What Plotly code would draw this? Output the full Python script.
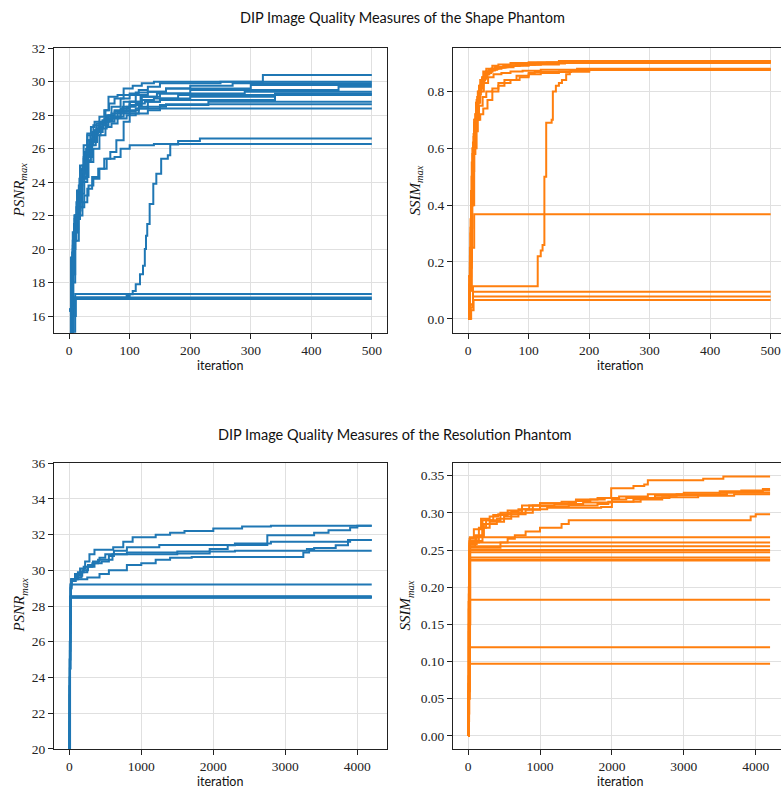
import plotly.graph_objects as go

BLUE = "#1f77b4"
ORANGE = "#ff7f0e"

# ---------------- Shape phantom: PSNR_max runs (iteration, value) ----------------
shape_psnr_iters = [
    [0, 1, 3, 5, 7, 10, 15, 20, 25, 30, 40, 50, 60, 65, 80, 90, 105, 120, 140, 320, 500],
    [0, 4, 6, 9, 12, 18, 24, 30, 38, 45, 55, 62, 70, 85, 100, 115, 130, 150, 250, 500],
    [0, 5, 8, 11, 16, 22, 28, 35, 45, 55, 65, 75, 90, 110, 130, 160, 300, 500],
    [0, 1, 4, 7, 10, 14, 20, 26, 33, 42, 50, 58, 70, 85, 100, 120, 145, 200, 445, 500],
    [0, 6, 9, 13, 18, 25, 32, 40, 48, 56, 64, 75, 88, 100, 118, 150, 290, 500],
    [0, 5, 10, 15, 22, 30, 38, 46, 55, 65, 80, 95, 110, 125, 150, 340, 500],
    [0, 4, 8, 12, 17, 24, 30, 37, 45, 55, 62, 72, 85, 100, 120, 140, 180, 500],
    [0, 5, 9, 14, 20, 27, 35, 43, 52, 60, 70, 85, 100, 115, 150, 230, 500],
    [0, 6, 10, 15, 21, 28, 36, 44, 52, 62, 75, 90, 110, 130, 160, 500],
    [0, 5, 9, 14, 19, 25, 32, 40, 50, 60, 70, 80, 95, 110, 130, 150, 500],
    [0, 5, 10, 16, 22, 30, 38, 48, 58, 68, 78, 90, 100, 115, 130, 150, 200, 340, 500],
    [0, 4, 8, 12, 18, 25, 32, 40, 50, 62, 75, 85, 100, 140, 500],
    [0, 3, 10, 90, 95, 100, 105, 110, 117, 122, 125, 127, 129, 133, 139, 144, 152, 163, 167, 180, 216, 500],
    [0, 6, 10, 500],
    [0, 5, 9, 500],
    [0, 7, 11, 500],
    [0, 3, 6, 9, 13, 18, 24, 30, 36, 42, 50, 58, 66, 75, 90, 110, 130, 160, 200, 270, 500],
]
shape_psnr_vals = [
    [16.4, 16.4, 14.2, 19.0, 20.5, 22.0, 23.5, 24.8, 25.8, 26.8, 27.4, 27.6, 28.3, 29.1, 29.2, 29.6, 29.75, 29.9, 30.0, 30.4, 30.4],
    [13.0, 18.0, 20.5, 22.0, 22.5, 24.5, 25.5, 26.5, 27.0, 27.5, 27.7, 28.0, 28.5, 29.0, 29.3, 29.5, 29.7, 29.9, 30.0, 30.0],
    [12.5, 19.5, 21.0, 22.0, 23.8, 25.0, 26.0, 26.8, 27.2, 27.6, 28.0, 28.3, 28.8, 29.2, 29.4, 29.6, 29.8, 29.8],
    [16.3, 16.3, 14.0, 20.0, 21.5, 23.0, 24.5, 25.6, 26.5, 27.1, 27.5, 27.8, 28.1, 28.4, 28.8, 29.1, 29.3, 29.5, 29.7, 29.7],
    [13.5, 20.2, 21.0, 22.6, 24.0, 25.2, 26.2, 26.9, 27.3, 27.6, 27.9, 28.2, 28.5, 28.8, 29.1, 29.3, 29.4, 29.4],
    [12.0, 18.5, 21.0, 22.5, 24.0, 25.5, 26.4, 27.0, 27.4, 27.8, 28.2, 28.5, 28.7, 28.8, 28.9, 29.3, 29.3],
    [13.2, 19.0, 21.5, 22.8, 24.2, 25.4, 26.0, 26.6, 27.0, 27.4, 27.7, 27.9, 28.3, 28.6, 28.9, 29.0, 29.2, 29.2],
    [12.8, 19.8, 21.8, 23.2, 24.6, 25.7, 26.5, 27.1, 27.5, 27.7, 27.9, 28.1, 28.3, 28.4, 28.6, 28.8, 28.8],
    [13.8, 20.0, 21.2, 22.8, 24.2, 25.3, 26.2, 26.8, 27.2, 27.6, 27.9, 28.2, 28.4, 28.5, 28.65, 28.65],
    [12.3, 19.2, 21.0, 22.3, 23.3, 24.3, 25.2, 26.0, 26.8, 27.3, 27.5, 27.8, 28.0, 28.1, 28.3, 28.4, 28.4],
    [13.0, 18.0, 20.5, 22.0, 22.8, 23.6, 24.3, 24.8, 25.4, 25.8, 26.5, 27.6, 28.1, 28.5, 28.8, 29.0, 29.1, 29.25, 29.25],
    [13.0, 18.5, 20.5, 21.8, 22.5, 23.2, 23.8, 24.2, 24.8, 25.4, 25.5, 26.0, 26.2, 26.27, 26.27],
    [16.4, 14.0, 17.1, 17.1, 17.2, 17.3, 17.5, 17.9, 18.5, 19.0, 20.0, 20.8, 21.5, 22.7, 23.9, 24.5, 25.4, 25.6, 26.25, 26.45, 26.6, 26.6],
    [12.0, 16.0, 17.32, 17.32],
    [13.0, 16.5, 17.1, 17.1],
    [11.5, 16.0, 17.02, 17.02],
    [14.0, 19.5, 21.0, 22.0, 23.5, 25.0, 26.2, 26.9, 27.3, 27.6, 27.9, 28.3, 28.7, 29.0, 29.2, 29.35, 29.4, 29.6, 29.75, 29.9, 29.9],
]

# ---------------- Shape phantom: SSIM_max runs ----------------
shape_ssim_iters = [
    [0, 2, 4, 6, 8, 10, 13, 16, 20, 25, 30, 40, 50, 70, 100, 150, 500],
    [0, 2, 4, 6, 9, 12, 15, 19, 24, 30, 38, 48, 60, 80, 110, 160, 500],
    [0, 3, 5, 7, 10, 13, 17, 22, 28, 35, 45, 60, 80, 120, 200, 500],
    [0, 1, 3, 5, 8, 11, 14, 18, 23, 30, 40, 55, 75, 100, 150, 330, 500],
    [0, 3, 6, 9, 12, 16, 20, 25, 32, 40, 50, 65, 85, 110, 160, 500],
    [0, 3, 6, 9, 12, 16, 20, 25, 32, 40, 50, 60, 70, 85, 100, 120, 150, 200, 500],
    [0, 3, 6, 10, 14, 18, 24, 30, 40, 50, 60, 80, 100, 110, 170, 500],
    [0, 2, 5, 8, 11, 15, 20, 26, 33, 42, 55, 70, 90, 120, 180, 500],
    [0, 3, 8, 113, 115, 120, 123, 126, 129, 138, 140, 145, 150, 155, 162, 168, 200, 500],
    [0, 3, 6, 10, 500],
    [0, 4, 8, 500],
    [0, 4, 8, 500],
    [0, 5, 9, 500],
    [0, 2, 5, 7, 10, 14, 18, 22, 28, 35, 45, 60, 90, 130, 250, 500],
    [0, 3, 5, 8, 11, 15, 19, 24, 30, 38, 48, 62, 85, 120, 200, 500],
    [0, 2, 4, 7, 10, 13, 17, 21, 27, 34, 44, 58, 80, 115, 180, 500],
]
shape_ssim_vals = [
    [0.0, 0.1, 0.3, 0.5, 0.62, 0.7, 0.76, 0.8, 0.84, 0.87, 0.88, 0.89, 0.895, 0.9, 0.903, 0.907, 0.907],
    [0.02, 0.15, 0.35, 0.55, 0.65, 0.72, 0.78, 0.82, 0.85, 0.87, 0.88, 0.885, 0.89, 0.895, 0.9, 0.905, 0.905],
    [0.0, 0.2, 0.4, 0.58, 0.68, 0.74, 0.8, 0.84, 0.86, 0.875, 0.885, 0.89, 0.895, 0.9, 0.903, 0.903],
    [0.15, 0.15, 0.1, 0.45, 0.6, 0.7, 0.77, 0.82, 0.85, 0.87, 0.88, 0.885, 0.89, 0.895, 0.9, 0.905, 0.905],
    [0.0, 0.25, 0.5, 0.64, 0.72, 0.78, 0.82, 0.85, 0.87, 0.88, 0.885, 0.89, 0.895, 0.898, 0.9, 0.9],
    [0.0, 0.2, 0.42, 0.58, 0.66, 0.7, 0.72, 0.74, 0.77, 0.8, 0.82, 0.83, 0.84, 0.85, 0.86, 0.865, 0.87, 0.878, 0.878],
    [0.0, 0.18, 0.4, 0.6, 0.7, 0.75, 0.78, 0.8, 0.81, 0.83, 0.84, 0.855, 0.865, 0.868, 0.875, 0.875],
    [0.01, 0.12, 0.4, 0.6, 0.7, 0.76, 0.8, 0.83, 0.85, 0.86, 0.865, 0.87, 0.873, 0.876, 0.88, 0.88],
    [0.0, 0.05, 0.115, 0.115, 0.22, 0.24, 0.26, 0.5, 0.69, 0.70, 0.8, 0.82, 0.83, 0.84, 0.86, 0.87, 0.876, 0.876],
    [0.0, 0.1, 0.25, 0.368, 0.368],
    [0.0, 0.05, 0.095, 0.095],
    [0.0, 0.04, 0.079, 0.079],
    [0.0, 0.03, 0.066, 0.066],
    [0.0, 0.15, 0.45, 0.6, 0.69, 0.76, 0.81, 0.84, 0.865, 0.878, 0.886, 0.892, 0.897, 0.902, 0.906, 0.906],
    [0.03, 0.22, 0.42, 0.6, 0.7, 0.77, 0.81, 0.845, 0.865, 0.876, 0.884, 0.89, 0.895, 0.9, 0.902, 0.902],
    [0.0, 0.12, 0.32, 0.52, 0.64, 0.72, 0.79, 0.83, 0.86, 0.874, 0.884, 0.89, 0.896, 0.901, 0.904, 0.904],
]

# ---------------- Resolution phantom: PSNR_max runs ----------------
res_psnr_iters = [
    [0, 5, 10, 20, 30, 80, 150, 220, 280, 350, 610, 750, 880, 1200, 1400, 1600, 2000, 2400, 2800, 4200],
    [0, 5, 10, 20, 30, 120, 200, 350, 450, 550, 620, 800, 1250, 2750, 3400, 3600, 3900, 4000, 4200],
    [0, 5, 10, 20, 30, 100, 180, 260, 330, 420, 500, 800, 1500, 1950, 2200, 2300, 2800, 3900, 4200],
    [0, 5, 10, 20, 30, 90, 170, 250, 320, 400, 600, 1500, 1950, 2300, 3300, 3400, 3700, 3870, 4200],
    [0, 5, 10, 20, 30, 250, 420, 550, 800, 1000, 1200, 1400, 1700, 3200, 3250, 3330, 4200],
    [0, 5, 10, 20, 4200],
    [0, 4, 8, 15, 4200],
    [0, 5, 9, 16, 4200],
    [0, 4, 10, 18, 4200],
    [0, 6, 11, 17, 4200],
    [0, 4, 9, 14, 4200],
    [0, 5, 8, 19, 4200],
]
res_psnr_vals = [
    [18.0, 25.0, 28.0, 29.2, 29.5, 29.8, 30.1, 30.5, 30.9, 31.15, 31.3, 31.6, 31.85, 32.0, 32.1, 32.2, 32.35, 32.45, 32.5, 32.5],
    [17.0, 24.0, 27.5, 29.1, 29.5, 29.9, 30.2, 30.4, 30.5, 30.8, 31.1, 31.3, 31.42, 31.97, 32.1, 32.25, 32.4, 32.5, 32.5],
    [16.5, 23.5, 27.0, 29.0, 29.5, 29.7, 30.0, 30.3, 30.5, 30.7, 30.9, 31.0, 31.05, 31.2, 31.4, 31.5, 31.6, 31.7, 31.7],
    [15.0, 23.0, 27.0, 29.0, 29.4, 29.6, 29.9, 30.2, 30.4, 30.6, 30.9, 30.95, 31.05, 31.1, 31.2, 31.25, 31.4, 31.7, 31.7],
    [16.0, 23.5, 27.5, 29.2, 29.5, 29.6, 29.8, 30.0, 30.3, 30.4, 30.6, 30.7, 30.75, 30.75, 31.0, 31.1, 31.1],
    [16.0, 22.0, 27.0, 29.2, 29.2],
    [15.0, 21.0, 26.0, 28.5, 28.5],
    [14.0, 20.5, 25.5, 28.48, 28.48],
    [15.5, 21.5, 26.5, 28.52, 28.52],
    [13.5, 20.0, 25.0, 28.55, 28.55],
    [14.5, 21.0, 26.0, 28.5, 28.5],
    [15.0, 20.5, 24.5, 28.47, 28.47],
]

# ---------------- Resolution phantom: SSIM_max runs ----------------
res_ssim_iters = [
    [0, 5, 10, 20, 80, 180, 300, 420, 600, 700, 850, 1000, 1400, 1500, 1800, 1990, 2300, 2450, 2500, 3270, 3550, 4200],
    [0, 5, 10, 20, 100, 200, 350, 550, 750, 1000, 1300, 1500, 1700, 1900, 2100, 2500, 3000, 3500, 4100, 4200],
    [0, 5, 10, 20, 150, 250, 450, 750, 900, 1200, 1600, 2000, 2200, 2600, 2900, 3600, 3800, 4200],
    [0, 5, 10, 20, 120, 220, 400, 600, 800, 1000, 1400, 1800, 1950, 2400, 2800, 3500, 4200],
    [0, 5, 10, 20, 200, 300, 500, 700, 900, 1100, 1850, 2000, 2300, 2700, 3200, 3700, 4200],
    [0, 5, 10, 30, 450, 550, 650, 800, 1000, 1300, 1400, 3900, 3930, 4000, 4200],
    [0, 6, 14, 25, 4200],
    [0, 5, 12, 24, 4200],
    [0, 6, 13, 26, 4200],
    [0, 5, 12, 22, 4200],
    [0, 6, 14, 25, 4200],
    [0, 5, 11, 23, 4200],
    [0, 6, 13, 27, 4200],
    [0, 5, 12, 24, 4200],
    [0, 6, 14, 26, 4200],
    [0, 5, 12, 25, 4200],
    [0, 6, 13, 24, 4200],
]
res_ssim_vals = [
    [0.0, 0.08, 0.2, 0.265, 0.278, 0.292, 0.295, 0.298, 0.302, 0.305, 0.31, 0.313, 0.314, 0.318, 0.32, 0.333, 0.336, 0.338, 0.344, 0.346, 0.349, 0.349],
    [0.0, 0.06, 0.18, 0.255, 0.27, 0.29, 0.297, 0.303, 0.31, 0.313, 0.315, 0.316, 0.318, 0.32, 0.322, 0.325, 0.327, 0.329, 0.332, 0.332],
    [0.0, 0.07, 0.19, 0.26, 0.28, 0.29, 0.3, 0.305, 0.31, 0.312, 0.314, 0.318, 0.32, 0.323, 0.325, 0.328, 0.33, 0.33],
    [0.0, 0.05, 0.17, 0.258, 0.268, 0.285, 0.292, 0.298, 0.304, 0.309, 0.31, 0.312, 0.315, 0.32, 0.324, 0.327, 0.327],
    [0.0, 0.06, 0.18, 0.262, 0.28, 0.288, 0.295, 0.3, 0.305, 0.307, 0.308, 0.315, 0.318, 0.321, 0.323, 0.325, 0.325],
    [0.0, 0.05, 0.15, 0.253, 0.26, 0.265, 0.27, 0.275, 0.28, 0.285, 0.29, 0.29, 0.295, 0.298, 0.298],
    [0.0, 0.03, 0.15, 0.267, 0.267],
    [0.0, 0.04, 0.14, 0.26, 0.26],
    [0.0, 0.03, 0.13, 0.255, 0.255],
    [0.0, 0.04, 0.15, 0.25, 0.25],
    [0.0, 0.03, 0.12, 0.247, 0.247],
    [0.0, 0.04, 0.14, 0.24, 0.24],
    [0.0, 0.03, 0.13, 0.237, 0.237],
    [0.0, 0.04, 0.12, 0.236, 0.236],
    [0.0, 0.02, 0.09, 0.183, 0.183],
    [0.0, 0.02, 0.06, 0.119, 0.119],
    [0.0, 0.02, 0.05, 0.097, 0.097],
]

titles = ["DIP Image Quality Measures of the Shape Phantom",
          "DIP Image Quality Measures of the Resolution Phantom"]
x_label = "iteration"
psnr_label = "<i>PSNR</i><sub><i>max</i></sub>"
ssim_label = "<i>SSIM</i><sub><i>max</i></sub>"

W, H = 781, 799

def px(x):
    return x / W

def py(y):
    return 1 - y / H

fig = go.Figure()

panels = [
    (shape_psnr_iters, shape_psnr_vals, BLUE, "x", "y"),
    (shape_ssim_iters, shape_ssim_vals, ORANGE, "x2", "y2"),
    (res_psnr_iters, res_psnr_vals, BLUE, "x3", "y3"),
    (res_ssim_iters, res_ssim_vals, ORANGE, "x4", "y4"),
]
for iters, vals, color, xa, ya in panels:
    for it, v in zip(iters, vals):
        fig.add_trace(go.Scatter(x=it, y=v, mode="lines", line=dict(color=color, width=2, shape="hv"),
                                 xaxis=xa, yaxis=ya, showlegend=False, hoverinfo="skip"))

TICKFONT = dict(family="Liberation Serif, DejaVu Serif, serif", size=13.5, color="#222")
GRID = "#e0e0e0"

def xax(domain, rng, dtick, anchor, mirror):
    return dict(domain=domain, range=rng, dtick=dtick, tick0=0, anchor=anchor, showline=True, linecolor="#222",
                linewidth=1, mirror=mirror, ticks="outside", ticklen=5, tickcolor="#222", tickfont=TICKFONT,
                showgrid=True, gridcolor=GRID, gridwidth=1, zeroline=False, ticklabeloverflow="allow")

def yax(domain, rng, dtick, tick0, anchor, mirror, fmt=None):
    d = dict(domain=domain, range=rng, dtick=dtick, tick0=tick0, anchor=anchor, showline=True, linecolor="#222",
             linewidth=1, mirror=mirror, ticks="outside", ticklen=5, tickcolor="#222", tickfont=TICKFONT,
             showgrid=True, gridcolor=GRID, gridwidth=1, zeroline=False, ticklabeloverflow="allow")
    if fmt:
        d["tickformat"] = fmt
    return d

LX = [px(54), px(387)]
RX = [px(453), 1.0]
TY = [py(332), py(42)]
BY = [py(756), py(465)]

fig.update_layout(
    width=W, height=H, margin=dict(l=0, r=0, t=0, b=0),
    paper_bgcolor="white", plot_bgcolor="white",
    xaxis=xax(LX, [-25, 525], 100, "y", True),
    yaxis=yax(TY, [15, 32], 2, 16, "x", True),
    xaxis2=xax(RX, [-25, 517], 100, "y2", True),
    yaxis2=yax(TY, [-0.049, 0.952], 0.2, 0, "x2", False, ".1f"),
    xaxis3=xax(LX, [-212, 4412], 1000, "y3", True),
    yaxis3=yax(BY, [20, 36], 2, 20, "x3", True),
    xaxis4=xax(RX, [-210, 4352], 1000, "y4", True),
    yaxis4=yax(BY, [-0.0175, 0.3667], 0.05, 0, "x4", False, ".2f"),
)

SANS = "Lato, DejaVu Sans, sans-serif"
ann = []
ann.append(dict(text=titles[0], x=px(402.5), y=py(11), xref="paper", yref="paper", showarrow=False,
                xanchor="center", yanchor="middle", font=dict(family=SANS, size=14.5, color="#111")))
ann.append(dict(text=titles[1], x=px(395), y=py(436), xref="paper", yref="paper", showarrow=False,
                xanchor="center", yanchor="middle", font=dict(family=SANS, size=14.5, color="#111")))
for xc, yc in [(220, 365), (620, 365), (220, 789), (620, 789)]:
    ann.append(dict(text=x_label, x=px(xc), y=py(yc), xref="paper", yref="paper", showarrow=False,
                    xanchor="center", yanchor="middle", font=dict(family=SANS, size=12.5, color="#111")))
for txt, xc, yc in [(psnr_label, 20, 187), (ssim_label, 416, 187), (psnr_label, 20, 610), (ssim_label, 406, 610)]:
    ann.append(dict(text=txt, x=px(xc), y=py(yc), xref="paper", yref="paper", showarrow=False, textangle=-90,
                    xanchor="center", yanchor="middle",
                    font=dict(family="Liberation Serif, DejaVu Serif, serif", size=15, color="#111")))
fig.update_layout(annotations=ann)

fig.write_html("out.html")
